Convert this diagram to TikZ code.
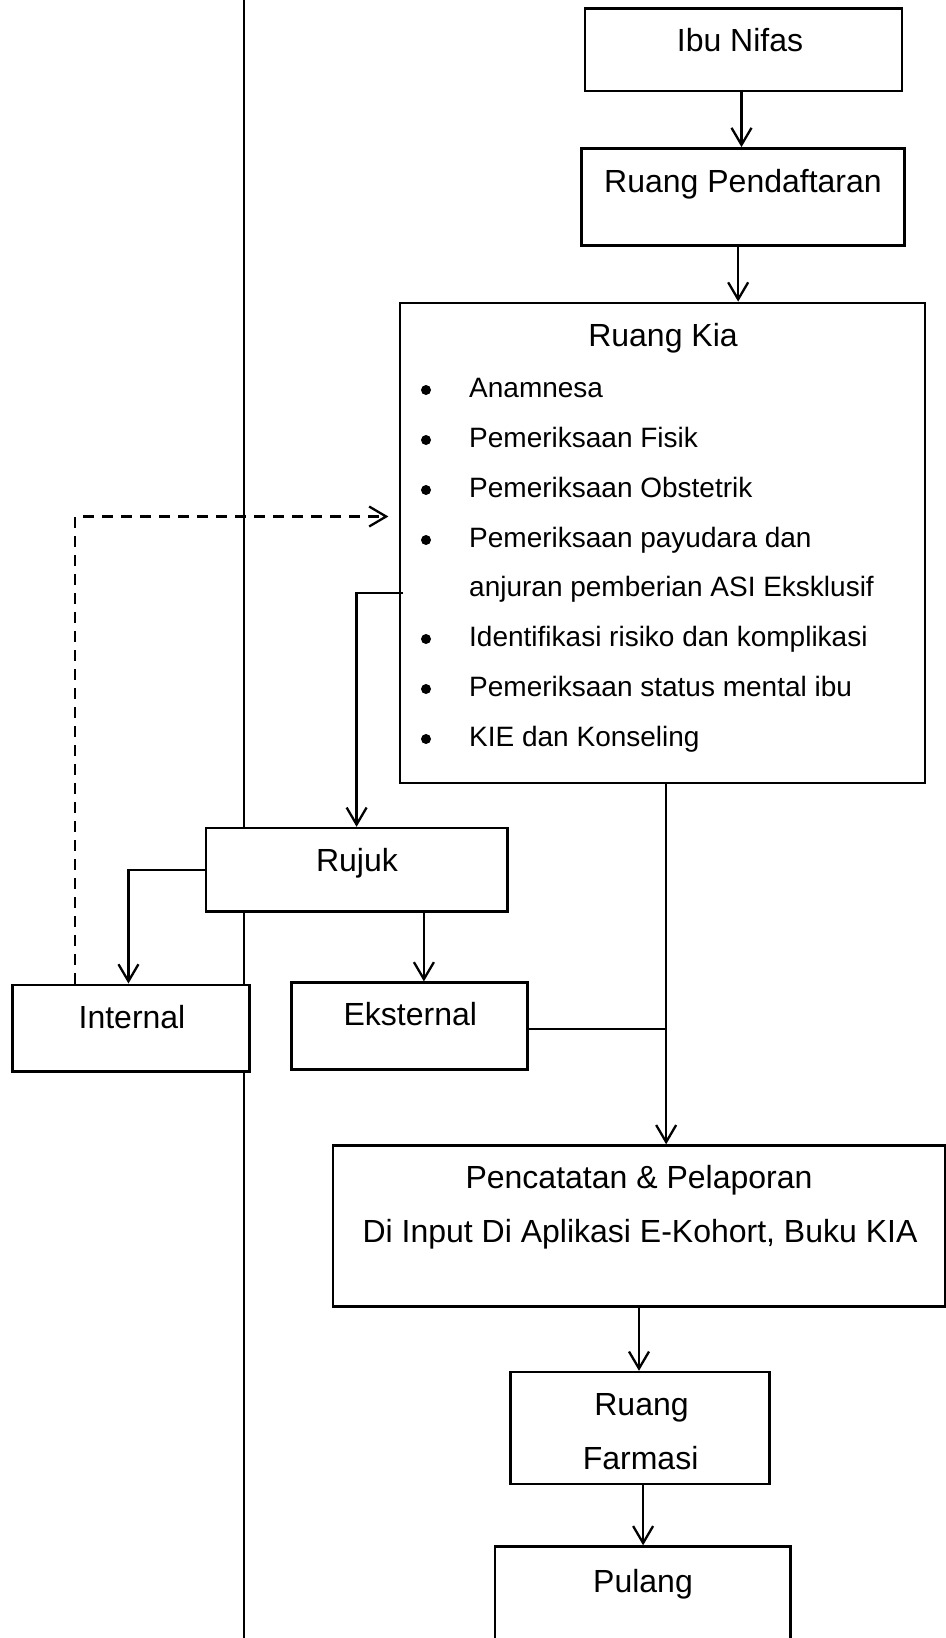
\documentclass[tikz,border=0pt]{standalone}
\usepackage{fontspec}
\setmainfont{Liberation Sans}
\usetikzlibrary{arrows.meta,fit}
\begin{document}
\begin{tikzpicture}[x=0.5pt,y=-0.5pt,
  flowbox/.style={draw,fill=white,line width=1.2pt,inner sep=0pt},
  heading/.style={font=\fontsize{16}{19}\selectfont,anchor=base,inner sep=0pt},
  listitem/.style={font=\fontsize{14}{17}\selectfont,anchor=base west,inner sep=0pt},
  bulletdot/.style={circle,fill=black,inner sep=0pt,minimum size=5pt},
  flowarrow/.style={line width=1.15pt,-{Straight Barb[length=8.5pt,width=10pt,line width=1.15pt]}},
  dasharrow/.style={flowarrow,dash pattern=on 5.5pt off 4pt},
  plainline/.style={line width=0.6pt}
]
\useasboundingbox (0,0) rectangle (946,1638);
\clip (0,0) rectangle (946,1638);

% lane divider
\coordinate (laneTop) at (244,0);
\coordinate (laneBot) at (244,1638);
\draw[line width=1.1pt] (laneTop) -- (laneBot);

% boxes
\node[flowbox, fit={(584.8,8.4) (902.2,90.8)}] (nifas) {};
\node[flowbox, fit={(581.6,148.3) (904.3,245.4)}] (daftar) {};
\node[flowbox, fit={(399.9,302.8) (925.2,783.2)}] (kia) {};
\node[flowbox, fit={(205.7,828) (507.5,911.6)}] (rujuk) {};
\node[flowbox, fit={(12.5,984.7) (249.6,1071.3)}] (internal) {};
\node[flowbox, fit={(291.3,982.6) (527.3,1069.3)}] (eksternal) {};
\node[flowbox, fit={(333,1145.5) (945,1306.3)}] (catat) {};
\node[flowbox, fit={(510.6,1372) (769.6,1483.8)}] (farmasi) {};
\node[flowbox, fit={(495,1546.5) (790.5,1680)}] (pulang) {};

% box texts
\node[heading] (tNifas) at (740,51) {Ibu Nifas};
\node[heading] (tDaftar) at (743,192) {Ruang Pendaftaran};
\node[heading] (tKia) at (663,346.5) {Ruang Kia};
\node[heading] (tRujuk) at (357,871) {Rujuk};
\node[heading] (tInternal) at (132,1028.5) {Internal};
\node[heading] (tEksternal) at (410.3,1025) {Eksternal};
\node[heading] (tCatatA) at (639,1188) {Pencatatan \& Pelaporan};
\node[heading] (tCatatB) at (640,1242.5) {Di Input Di Aplikasi E-Kohort, Buku KIA};
\node[heading] (tFarA) at (641.5,1415) {Ruang};
\node[heading] (tFarB) at (640.6,1469) {Farmasi};
\node[heading] (tPulang) at (643,1592) {Pulang};

% activity list in Ruang Kia
\node[bulletdot] (b1) at (426,390) {};
\node[listitem] (i1) at (468.8,397.5) {Anamnesa};
\node[bulletdot] (b2) at (426,440) {};
\node[listitem] (i2) at (468.8,447.5) {Pemeriksaan Fisik};
\node[bulletdot] (b3) at (426,490) {};
\node[listitem] (i3) at (468.8,497.5) {Pemeriksaan Obstetrik};
\node[bulletdot] (b4) at (426,540) {};
\node[listitem] (i4) at (468.8,547.5) {Pemeriksaan payudara dan};
\node[listitem] (i4b) at (468.8,596.5) {anjuran pemberian ASI Eksklusif};
\node[bulletdot] (b5) at (426,639) {};
\node[listitem] (i5) at (468.8,646.5) {Identifikasi risiko dan komplikasi};
\node[bulletdot] (b6) at (426,689) {};
\node[listitem] (i6) at (468.8,696.5) {Pemeriksaan status mental ibu};
\node[bulletdot] (b7) at (426,739) {};
\node[listitem] (i7) at (468.8,746.5) {KIE dan Konseling};

% connectors
\draw[flowarrow] ([xshift=-1pt]nifas.south) -- ([xshift=-1pt]nifas.south |- daftar.north);
\draw[flowarrow] ([xshift=-2.4pt]daftar.south) -- ([xshift=-2.4pt]daftar.south |- kia.north);

\coordinate (kiaOut) at (403,593);
\draw[flowarrow] (kiaOut) -| (rujuk.north);

\draw[flowarrow] (rujuk.west) -| ([xshift=-1.3pt]internal.north);
\draw[flowarrow] ([xshift=7.3pt]eksternal.north |- rujuk.south) -- ([xshift=7.3pt]eksternal.north);

\coordinate (backTip) at (388.4,516.5);
\draw[dasharrow] ([xshift=-28pt]internal.north) |- (backTip);

\coordinate (kiaDown) at ([xshift=1.8pt]kia.south);
\draw[flowarrow] (kiaDown) -- (kiaDown |- catat.north);
\draw[plainline] ([yshift=-1.5pt]eksternal.east) -- ([yshift=-1.5pt]eksternal.east -| kiaDown);

\draw[flowarrow] (catat.south) -- (catat.south |- farmasi.north);
\draw[flowarrow] ([xshift=1.5pt]farmasi.south) -- ([xshift=1.5pt]farmasi.south |- pulang.north);
\end{tikzpicture}
\end{document}
